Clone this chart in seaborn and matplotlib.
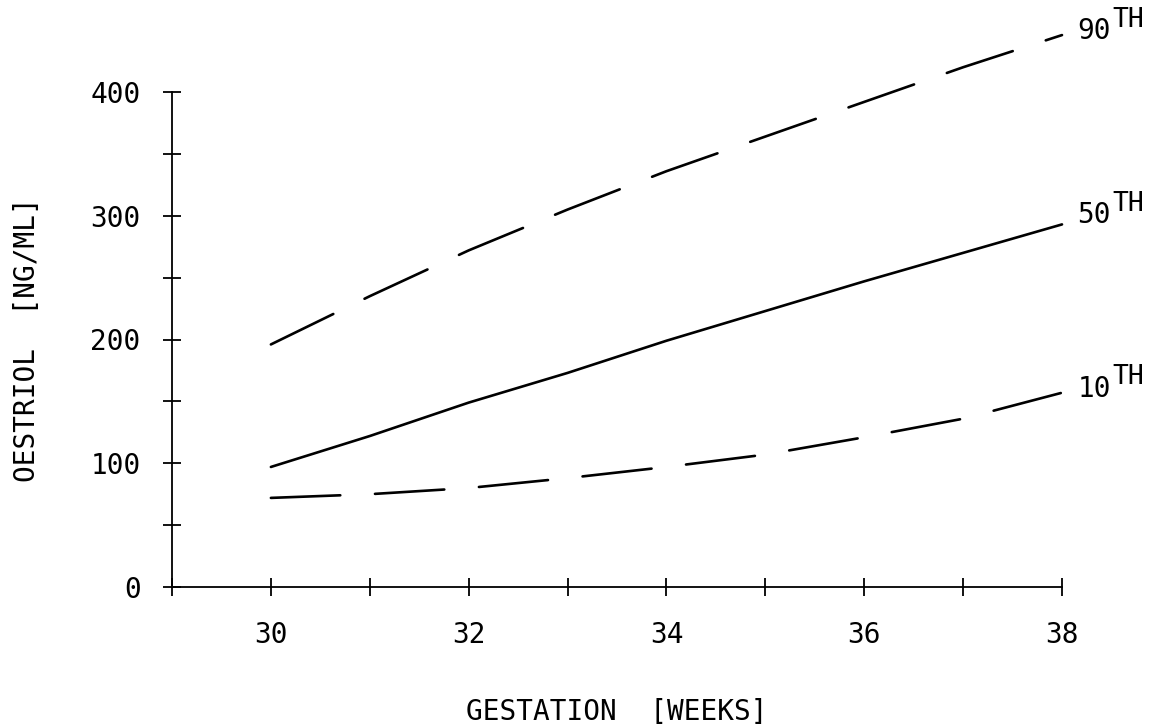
import numpy as np
import pandas as pd
import matplotlib
matplotlib.use("Agg")
import matplotlib.pyplot as plt
import seaborn as sns

# ---- data ----
weeks = [30, 31, 32, 33, 34, 35, 36, 37, 38]
p90 = [196, 235, 272, 305, 336, 364, 392, 420, 446]
p50 = [97, 122, 149, 173, 199, 223, 247, 270, 293]
p10 = [72, 75, 80, 88, 97, 107, 121, 136, 157]
series_names = ["90", "50", "10"]
x_ticks = [29, 30, 31, 32, 33, 34, 35, 36, 37, 38]
x_tick_labels = ["", "30", "", "32", "", "34", "", "36", "", "38"]
y_ticks = [0, 50, 100, 150, 200, 250, 300, 350, 400]
y_tick_labels = ["0", "", "100", "", "200", "", "300", "", "400"]
x_label = "GESTATION  [WEEKS]"
y_label = "OESTRIOL  [NG/ML]"

sns.set_style("ticks")
plt.rcParams["font.family"] = ["DejaVu Sans Mono", "DejaVu Sans"]
plt.rcParams["lines.scale_dashes"] = False

FS = 20

fig = plt.figure(figsize=(11.65, 7.27), dpi=100)
ax = fig.add_axes([172 / 1165, 1 - 587 / 727, 890 / 1165, 495 / 727])

df = pd.DataFrame({"week": weeks, "90": p90, "50": p50, "10": p10})
lw = 1.9
for name in series_names:
    sns.lineplot(data=df, x="week", y=name, ax=ax, color="black", lw=lw)

lines = ax.get_lines()
for ln, name in zip(lines, series_names):
    ln.set_clip_on(False)
    ln.set_solid_capstyle("round")
    ln.set_dash_capstyle("round")
    if name != "50":
        ln.set_dashes((50, 25))

ax.set_xlim(29, 38)
ax.set_ylim(0, 400)
ax.set_xticks(x_ticks)
ax.set_xticklabels(x_tick_labels)
ax.set_yticks(y_ticks)
ax.set_yticklabels(y_tick_labels)

for side in ["top", "right"]:
    ax.spines[side].set_visible(False)
for side in ["left", "bottom"]:
    ax.spines[side].set_color("black")
    ax.spines[side].set_linewidth(1.3)

ax.tick_params(axis="both", direction="inout", length=13, width=1.3,
               colors="black", labelsize=FS, bottom=True, left=True)
ax.tick_params(axis="y", pad=16)
ax.tick_params(axis="x", pad=18)

ax.set_xlabel(x_label, fontsize=FS, color="black")
ax.set_ylabel(y_label, fontsize=FS, color="black")
ax.xaxis.set_label_coords(0.5, -0.225)
ax.yaxis.set_label_coords(-0.147, 0.5)

# percentile labels at the line ends
ends = {"90": p90[-1], "50": p50[-1], "10": p10[-1]}
dy = {"90": 3, "50": 7, "10": 3}
for name in series_names:
    ax.annotate(name, xy=(weeks[-1], ends[name]), xytext=(11, dy[name]),
                textcoords="offset points", ha="left", va="center",
                fontsize=FS, color="black", annotation_clip=False)
    ax.annotate("TH", xy=(weeks[-1], ends[name]), xytext=(36, dy[name] + 8),
                textcoords="offset points", ha="left", va="center",
                fontsize=FS - 1, color="black", annotation_clip=False)

fig.savefig("out.png", dpi=100, facecolor="white")
